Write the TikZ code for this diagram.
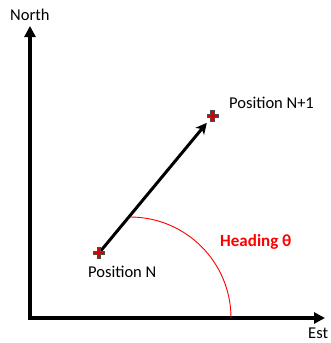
\documentclass[tikz,border=0pt]{standalone}
\usepackage{fontspec}
\setmainfont{Carlito}
\usetikzlibrary{arrows.meta,calc}
\tikzset{
  axis/.style={line width=3.8pt, -{Triangle[length=11pt,width=11pt]}},
  vec/.style={line width=3pt, -{Stealth[length=11pt,width=11pt,inset=3pt]}},
  lbl/.style={font=\fontsize{16.5}{18}\selectfont, inner sep=0pt},
  plus/.pic={\filldraw[fill=red!85!black, draw=black!70, line width=0.8pt]
    (-1.8,-5.5) -- (1.8,-5.5) -- (1.8,-1.8) -- (5.5,-1.8) -- (5.5,1.8) -- (1.8,1.8) -- (1.8,5.5) -- (-1.8,5.5) -- (-1.8,1.8) -- (-5.5,1.8) -- (-5.5,-1.8) -- (-1.8,-1.8) -- cycle;}
}
\begin{document}
\begin{tikzpicture}[x=1pt,y=-1pt]
\useasboundingbox (0,0) rectangle (330,343);
\coordinate (O) at (30,318);
\coordinate (ytip) at (30,26);
\coordinate (xtip) at (325,318);
\coordinate (xstart) at (28,318);
\coordinate (ystart) at (30,320);
\draw[axis] (xstart) -- (xtip);
\draw[axis] (ystart) -- (ytip);
\node[lbl, anchor=west] (north) at (10,15) {North};
\node[lbl, anchor=west] (est) at (308,333) {Est};
\coordinate (N) at (99,253);
\coordinate (N1) at (212.5,116);
\coordinate (arcc) at (130,318);
\draw[red, line width=0.9pt] (130,217) arc[start angle=270, end angle=360, radius=101];
\draw[vec] (N) -- ($(N)!0.95!(N1)$);
\pic at (N) {plus};
\pic at (N1) {plus};
\node[lbl, anchor=west] (lN1) at (229,103) {Position N+1};
\node[lbl, anchor=west] (lN) at (88,272) {Position N};
\node[lbl, anchor=west, text=red, font=\fontsize{17}{19}\selectfont\bfseries] (head) at (220,242) {Heading θ};
\end{tikzpicture}
\end{document}
